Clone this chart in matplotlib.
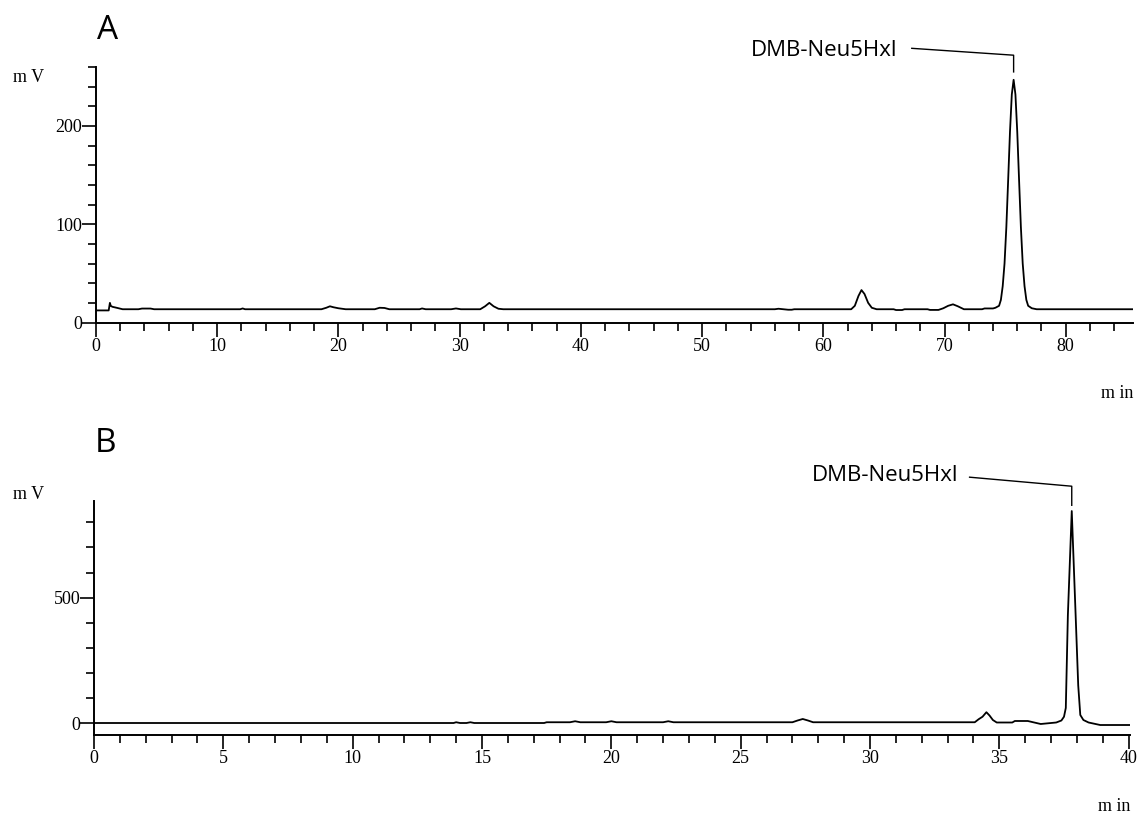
import matplotlib
matplotlib.use('Agg')
import matplotlib.pyplot as plt
import numpy as np

# panel A chromatogram (time in min, signal in mV)
a_t = [0, 1.05, 1.15, 1.22, 1.35, 1.7, 2.2, 3.5, 3.8, 4.5, 4.8, 11.9, 12.1, 12.3,
       18.6, 19.0, 19.3, 19.6, 20.0, 20.6, 23.0, 23.4, 23.8, 24.2, 26.7, 26.9, 27.2,
       29.3, 29.7, 30.1, 31.7, 32.1, 32.45, 32.8, 33.2, 33.6, 56.0, 56.3, 57.1, 57.4,
       57.6, 62.3, 62.6, 62.9, 63.15, 63.4, 63.7, 64.0, 64.4, 65.8, 66.0, 66.5, 66.7,
       68.6, 68.8, 69.5, 69.9, 70.3, 70.7, 71.1, 71.6, 73.1, 73.3, 74.0, 74.2, 74.5,
       74.65, 74.8, 74.95, 75.1, 75.25, 75.4, 75.55, 75.7, 75.85, 76.0, 76.15, 76.3,
       76.45, 76.6, 76.75, 76.9, 77.2, 77.6, 85.5]
a_v = [12.3, 12.3, 20, 17, 16, 15, 13.5, 13.5, 14.2, 14.2, 13.5, 13.5, 14.3, 13.5,
       13.5, 15, 16.5, 15.5, 14.5, 13.5, 13.5, 15, 14.8, 13.5, 13.5, 14.3, 13.5,
       13.5, 14.3, 13.5, 13.5, 16.5, 20, 16.5, 14, 13.5, 13.5, 14, 13, 13,
       13.5, 13.5, 17, 27, 33, 29, 20, 15, 13.5, 13.5, 12.7, 12.7, 13.5,
       13.5, 12.8, 12.8, 14.5, 17, 18.5, 16.5, 13.5, 13.5, 14.3, 14.3, 15, 17,
       23, 37, 60, 97, 145, 194, 232, 247, 232, 194, 145, 97,
       60, 37, 23, 17, 14.5, 13.5, 13.5]

# panel B chromatogram
b_t = [0, 13.9, 14.0, 14.15, 14.4, 14.55, 14.7, 17.4, 17.5, 18.4, 18.6, 18.8, 19.8,
       20.0, 20.2, 22.0, 22.2, 22.4, 27.0, 27.2, 27.4, 27.6, 27.8, 34.05, 34.2, 34.35,
       34.5, 34.62, 34.75, 34.9, 35.5, 35.6, 36.1, 36.6, 37.2, 37.4, 37.5, 37.57,
       37.65, 37.8, 37.95, 38.05, 38.13, 38.25, 38.45, 38.9, 40.05]
b_v = [0, 0, 3, 0, 0, 3, 0, 0, 3, 3, 7, 3, 3,
       7, 3, 3, 7, 3, 3, 10, 16, 10, 3, 3, 15, 25,
       43, 30, 12, 2, 2, 8, 8, -4, 2, 10, 25, 60,
       430, 845, 430, 150, 32, 12, 2, -8, -8]

peak_name = 'DMB-Neu5Hxl'
serif = 'Liberation Serif'
sans = 'Open Sans'


def style_axis(ax, xmax, xmajor, xminor, ylim, ymajor, yminor):
    ax.set_xlim(0, xmax)
    ax.set_ylim(*ylim)
    ax.spines['top'].set_visible(False)
    ax.spines['right'].set_visible(False)
    for s in ['left', 'bottom']:
        ax.spines[s].set_linewidth(1.4)
    ax.set_xticks(np.arange(0, xmax + 0.01, xmajor))
    ax.set_xticks(np.arange(0, xmax + 0.01, xminor), minor=True)
    ax.set_yticks(ymajor)
    ax.set_yticks(yminor, minor=True)
    ax.tick_params(which='major', length=10, width=1.2, labelsize=13)
    ax.tick_params(which='minor', length=6, width=1.2)
    for lab in ax.get_xticklabels() + ax.get_yticklabels():
        lab.set_fontfamily(serif)
    ax.tick_params(axis='y', pad=0)
    ax.tick_params(axis='x', pad=1)


fig = plt.figure(figsize=(11.37, 8.14), dpi=100)
axA = fig.add_axes([0.0844, 0.6032, 0.9121, 0.3145])
axB = fig.add_axes([0.0827, 0.0970, 0.9111, 0.2875])

axA.plot(a_t, a_v, color='black', lw=1.3)
style_axis(axA, 85.55, 10, 2, (-0.5, 260), [0, 100, 200], np.arange(0, 261, 20))

axB.plot(b_t, b_v, color='black', lw=1.3)
style_axis(axB, 40.05, 5, 1, (-48, 885), [0, 500], np.arange(0, 801, 100))

# panel letters and unit labels
fig.text(0.085, 0.952, 'A', fontsize=24, family=sans, ha='left', va='baseline')
fig.text(0.083, 0.445, 'B', fontsize=24, family=sans, ha='left', va='baseline')
fig.text(0.011, 0.899, 'm V', fontsize=13, family=serif, ha='left')
fig.text(0.011, 0.387, 'm V', fontsize=13, family=serif, ha='left')
fig.text(0.997, 0.511, 'm in', fontsize=13, family=serif, ha='right')
fig.text(0.994, 0.004, 'm in', fontsize=13, family=serif, ha='right')

# peak labels with leader lines
ia = int(np.argmax(a_v))
pa_t, pa_v = a_t[ia], a_v[ia]
axA.plot([pa_t - 8.4, pa_t, pa_t], [pa_v + 32, pa_v + 25, pa_v + 8],
         color='black', lw=1.0, clip_on=False)
axA.text(pa_t - 9.6, pa_v + 30, peak_name, fontsize=16, family=sans,
         ha='right', va='center', clip_on=False)

ib = int(np.argmax(b_v))
pb_t, pb_v = b_t[ib], b_v[ib]
axB.plot([pb_t - 3.95, pb_t, pb_t], [pb_v + 135, pb_v + 99, pb_v + 23],
         color='black', lw=1.0, clip_on=False)
axB.text(pb_t - 4.4, pb_v + 143, peak_name, fontsize=16, family=sans,
         ha='right', va='center', clip_on=False)

fig.savefig('out.png', dpi=100)
